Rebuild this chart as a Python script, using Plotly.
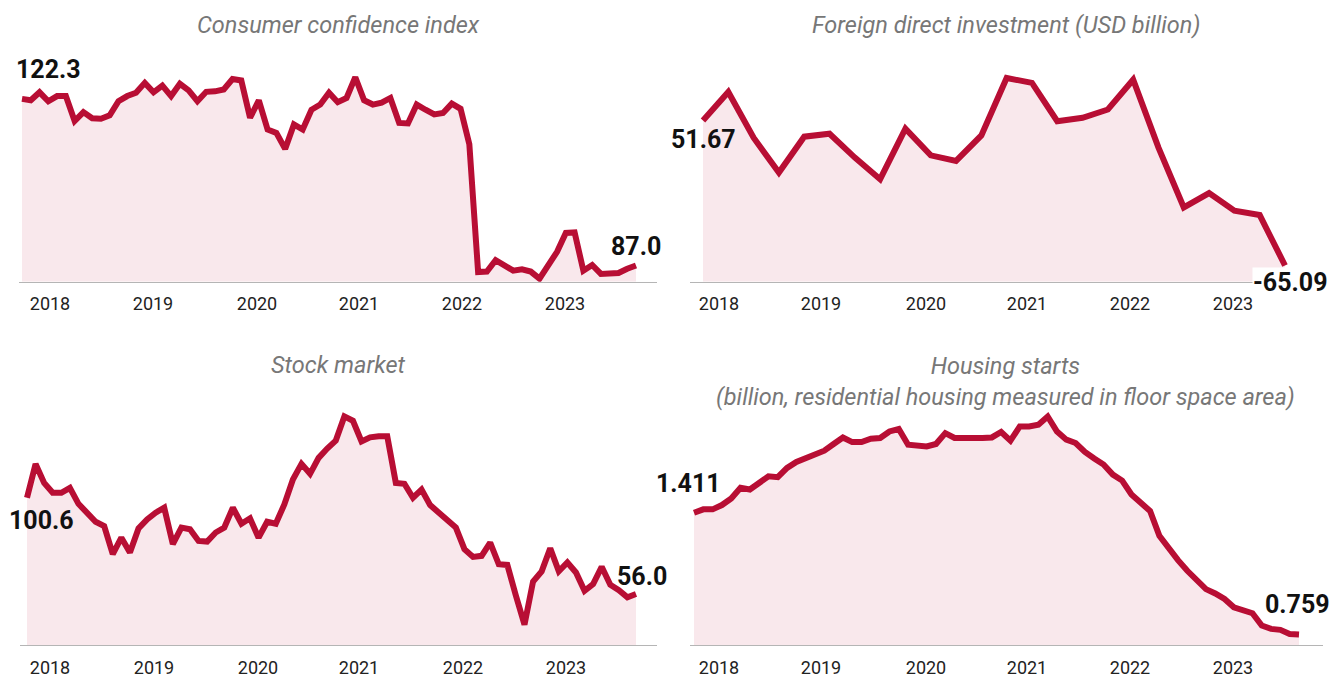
import plotly.graph_objects as go

W, H = 1331, 678

years = ["2018", "2019", "2020", "2021", "2022", "2023"]

cci = [122.3, 122.0, 123.7, 121.8, 122.9, 122.9, 117.6, 119.5, 118.2, 118.1, 118.8, 121.8,
       122.9, 123.6, 125.7, 123.7, 125.1, 122.9, 125.5, 124.1, 121.8, 123.8, 123.9, 124.3,
       126.5, 126.2, 118.3, 122.0, 115.8, 115.1, 111.7, 116.9, 115.8, 120.0, 121.1, 123.6,
       121.6, 122.5, 126.9, 122.0, 121.1, 121.5, 122.5, 117.2, 117.1, 121.1, 120.0, 119.0,
       119.3, 121.3, 120.2, 112.7, 85.6, 85.7, 88.1, 87.0, 85.9, 86.2, 85.7, 84.2,
       87.1, 89.9, 93.9, 94.0, 85.9, 87.1, 85.2, 85.2, 85.4, 86.3, 87.0]

fdi = [51.67, 74.65, 37.8, 9.7, 38.6, 41.0, 21.8, 4.4, 45.0, 23.6, 19.1, 39.6,
       85.9, 81.9, 51.1, 53.8, 60.5, 84.5, 29.8, -18.3, -6.8, -21.0, -24.5, -65.09]

stock = [100.6, 116.3, 107.5, 102.9, 102.9, 105.2, 97.8, 93.7, 89.5, 87.5, 74.5, 82.1,
         75.2, 86.4, 90.6, 93.7, 96.0, 79.1, 86.8, 86.0, 80.6, 80.3, 84.5, 86.8,
         96.0, 88.6, 91.1, 82.1, 89.5, 88.6, 97.5, 109.1, 116.3, 111.7, 119.1, 123.4,
         127.1, 138.3, 136.3, 126.7, 128.6, 129.1, 129.1, 107.5, 107.1, 100.6, 104.4, 97.2,
         93.7, 90.6, 86.8, 76.8, 73.2, 73.7, 79.8, 69.8, 69.5, 55.2, 41.8, 61.8,
         66.5, 77.2, 66.5, 70.6, 66.0, 57.5, 60.6, 68.6, 60.3, 57.8, 54.5, 56.0]

housing = [1.411, 1.429, 1.429, 1.452, 1.487, 1.544, 1.535, 1.571, 1.606, 1.601, 1.651, 1.683,
           1.701, 1.718, 1.743, 1.779, 1.814, 1.789, 1.789, 1.807, 1.811, 1.846, 1.859, 1.775,
           1.772, 1.766, 1.779, 1.837, 1.811, 1.807, 1.811, 1.811, 1.814, 1.843, 1.797, 1.873,
           1.873, 1.882, 1.926, 1.846, 1.802, 1.784, 1.736, 1.701, 1.669, 1.615, 1.583, 1.509,
           1.464, 1.420, 1.287, 1.216, 1.157, 1.100, 1.050, 1.002, 0.979, 0.949, 0.905, 0.890,
           0.873, 0.807, 0.789, 0.784, 0.762, 0.759]

titles = ["<i>Consumer confidence index</i>",
          "<i>Foreign direct investment (USD billion)</i>",
          "<i>Stock market</i>",
          "<i>Housing starts<br>(billion, residential housing measured in floor space area)</i>"]

LINE = "#B80E34"
FILL = "#F9E8EC"
FONT = "Roboto"

# layout geometry (pixels)
panels = [
    dict(vals=cci, dom_x=(19, 657), dom_y=(283, 60), yrange=(83.55, 130.60),
         first_px=22, last_px=636, ticks_px=[50, 153, 257, 359, 462, 565],
         s_shift=(-7, 29, "left", None), e_shift=(0, 18.5, "center", None),
         title_xy=(338, 25)),
    dict(vals=fdi, dom_x=(690, 1323), dom_y=(283, 60), yrange=(-78.19, 100.57),
         first_px=703, last_px=1285, ticks_px=[719, 821, 926, 1027, 1130, 1233],
         s_shift=(0, -19.5, "center", None), e_shift=(4.5, -17, "center", "white"),
         title_xy=(1006, 25)),
    dict(vals=stock, dom_x=(20, 657), dom_y=(648, 405), yrange=(32.31, 144.43),
         first_px=27, last_px=636, ticks_px=[50, 154, 258, 359, 463, 566],
         s_shift=(14, -22.5, "center", None), e_shift=(6, 18, "center", None),
         title_xy=(338, 367)),
    dict(vals=housing, dom_x=(690, 1323), dom_y=(648, 405), yrange=(0.7021, 1.9973),
         first_px=694, last_px=1299, ticks_px=[719, 821, 926, 1027, 1130, 1233],
         s_shift=(-6, 29, "center", None), e_shift=(-1.5, 30.5, "center", None),
         title_xy=(1006, 383)),
]

fig = go.Figure()
annotations = []
layout_axes = {}

for k, p in enumerate(panels, start=1):
    vals = p["vals"]
    n = len(vals)
    xs = list(range(n))
    sfx = "" if k == 1 else str(k)
    xa, ya = "x" + sfx, "y" + sfx

    step = (p["last_px"] - p["first_px"]) / (n - 1)
    xr = [(p["dom_x"][0] - p["first_px"]) / step, (p["dom_x"][1] - p["first_px"]) / step]
    tv = [(t - p["first_px"]) / step for t in p["ticks_px"]]

    base = p["yrange"][0]
    fig.add_trace(go.Scatter(x=xs, y=[base] * n, mode="lines", line=dict(width=0),
                             hoverinfo="skip", showlegend=False, xaxis=xa, yaxis=ya))
    fig.add_trace(go.Scatter(x=xs, y=vals, mode="lines", fill="tonexty", fillcolor=FILL,
                             line=dict(color=LINE, width=6), showlegend=False,
                             xaxis=xa, yaxis=ya))

    layout_axes["xaxis" + sfx] = dict(
        domain=[p["dom_x"][0] / W, p["dom_x"][1] / W], range=xr, anchor=ya,
        showline=True, linecolor="#b5b5b5", linewidth=1, showgrid=False, zeroline=False,
        tickmode="array", tickvals=tv, ticktext=years, ticks="outside", ticklen=6,
        tickcolor="rgba(0,0,0,0)", tickfont=dict(family=FONT, size=18, color="#222"),
        fixedrange=True)
    layout_axes["yaxis" + sfx] = dict(
        domain=[1 - p["dom_y"][0] / H, 1 - p["dom_y"][1] / H], range=list(p["yrange"]),
        anchor=xa, visible=False, fixedrange=True)

    for idx, (dx, dy, anc, bg) in ((0, p["s_shift"]), (n - 1, p["e_shift"])):
        annotations.append(dict(
            x=idx, y=vals[idx], xref=xa, yref=ya, text="<b>%s</b>" % vals[idx],
            showarrow=False, xanchor=anc, yanchor="middle", xshift=dx, yshift=dy,
            font=dict(family=FONT, size=25, color="#111"),
            bgcolor=bg if bg else "rgba(0,0,0,0)", borderpad=0))

    annotations.append(dict(
        x=p["title_xy"][0] / W, y=1 - p["title_xy"][1] / H, xref="paper", yref="paper",
        text=titles[k - 1], showarrow=False, xanchor="center", yanchor="middle",
        font=dict(family=FONT, size=23.5, color="#777")))

fig.update_layout(
    width=W, height=H, margin=dict(l=0, r=0, t=0, b=0),
    paper_bgcolor="white", plot_bgcolor="white",
    annotations=annotations, **layout_axes)

fig.write_html("out.html", config={"displayModeBar": False},
               post_script="document.body.style.margin='0';document.body.style.overflow='hidden';")
